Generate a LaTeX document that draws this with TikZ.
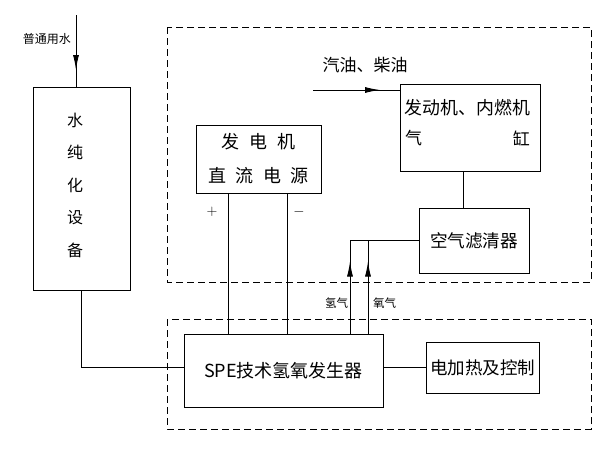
\documentclass[tikz,border=0pt]{standalone}
\usepackage{fontspec}
\newfontfamily\cjk{Noto Sans CJK SC}
\usetikzlibrary{arrows.meta,decorations.markings}
\begin{document}
\begin{tikzpicture}[x=1pt,y=-1pt,
  box/.style={draw, line width=1pt, inner sep=0pt},
  conn/.style={line width=1pt},
  frame/.style={line width=1pt, dash pattern=on 7pt off 4pt},
  lbl/.style={inner sep=0pt, font=\cjk\fontsize{17}{17}\selectfont},
  small/.style={inner sep=0pt, font=\cjk\fontsize{12}{12}\selectfont},
  midarrow/.style={postaction={decorate}, decoration={markings, mark=at position #1 with {\arrow{Latex[length=15pt,width=6pt]}}}}
]
\useasboundingbox (0,0) rectangle (598,450);
\fill[white] (0,0) rectangle (598,450);

% dashed frames
\draw[frame] (167,27) rectangle (591,282);
\draw[frame] (167,319) rectangle (591,429);

% boxes
\node[box, minimum width=97pt, minimum height=203pt] (water) at (81.5,188.5) {};
\node[lbl, font=\cjk\fontsize{16}{32.5}\selectfont, align=center] (watertxt) at (75,185) {水\\纯\\化\\设\\备};

\node[box, minimum width=125pt, minimum height=68pt, align=center, font=\cjk\fontsize{18}{34}\selectfont] (gen) at (258.5,159)
  {发\hspace{10.5pt}电\hspace{10.5pt}机\\直\hspace{9.3pt}流\hspace{9.3pt}电\hspace{9.3pt}源};

\node[box, minimum width=140pt, minimum height=87pt] (eng) at (470,127.5) {};
\node[lbl, font=\cjk\fontsize{17.9}{17.9}\selectfont] (engt1) at (467.5,108) {发动机、内燃机};
\node[lbl, anchor=west] (engt2) at (405,138) {气};
\node[lbl, anchor=east] (engt3) at (530,138) {缸};

\node[box, minimum width=110pt, minimum height=65pt, font=\cjk\fontsize{17.6}{17.6}\selectfont] (filt) at (474,240.5) {空气滤清器};

\node[box, minimum width=199pt, minimum height=73pt, font=\cjk\fontsize{18}{18}\selectfont] (spe) at (283.5,370.5) {SPE技术氢氧发生器};

\node[box, minimum width=113pt, minimum height=51pt, font=\cjk\fontsize{17.5}{17.5}\selectfont] (heat) at (482.5,367.5) {电加热及控制};

% labels
\node[small] (winl) at (47,39) {普通用水};
\node[lbl] (fuell) at (365,65) {汽油、柴油};
\node[small, font=\cjk\fontsize{11.5}{11.5}\selectfont] (h2l) at (336.5,303) {氢气};
\node[small, font=\cjk\fontsize{11.5}{11.5}\selectfont] (o2l) at (384.5,303) {氧气};
\node[inner sep=0pt, font=\fontsize{15}{15}\selectfont] (plus) at (212,212) {+};
\node[inner sep=0pt, font=\fontsize{15}{15}\selectfont] (minus) at (299,212) {$-$};

% connectors
\coordinate (win) at (76,15);
\draw[conn, midarrow=55pt] (win) -- (win |- water.north);
\draw[conn] (water.south) |- (spe.west |- heat.west);
\coordinate (px) at (228,0);
\coordinate (mx) at (287,0);
\draw[conn] (gen.south -| px) -- (spe.north -| px);
\draw[conn] (gen.south -| mx) -- (spe.north -| mx);
\coordinate (fx) at (463,0);
\draw[conn] (eng.south -| fx) -- (filt.north -| fx);
\coordinate (hx) at (350,0);
\coordinate (ox) at (368,0);
\draw[conn, midarrow=72pt] (spe.north -| hx) |- (filt.west);
\draw[conn, midarrow=72pt] (spe.north -| ox) -- (filt.west -| ox);
\draw[conn] (spe.east |- heat.west) -- (heat.west);
\coordinate (fin) at (313,90);
\draw[conn, midarrow=67pt] (fin) -- (fin -| eng.west);
\end{tikzpicture}
\end{document}
